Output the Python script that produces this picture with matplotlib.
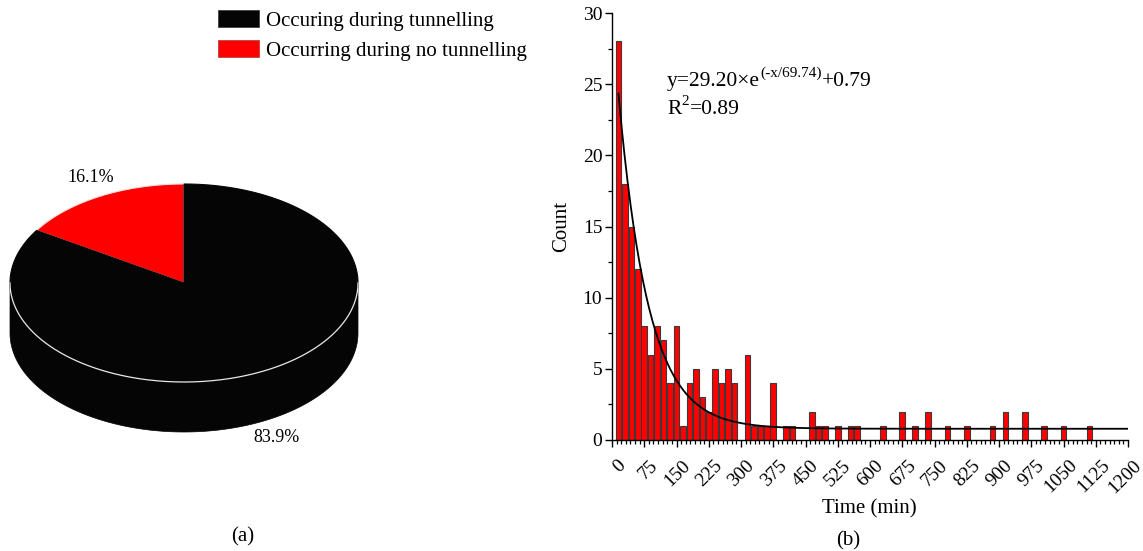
import numpy as np
import matplotlib
matplotlib.use("Agg")
import matplotlib.pyplot as plt
import matplotlib.transforms as mtransforms
from matplotlib.patches import Polygon, Patch

plt.rcParams["font.family"] = ["Liberation Serif", "DejaVu Serif"]
plt.rcParams["mathtext.fontset"] = "custom"
plt.rcParams["mathtext.rm"] = "Liberation Serif"
plt.rcParams["mathtext.it"] = "Liberation Serif:italic"

# ---- (a) share of events ----
pie_labels = ["Occurring during no tunnelling", "Occuring during tunnelling"]
pie_shares = [16.1, 83.9]
pie_colors = ["#ff0000", "#050505"]

# ---- (b) histogram of time (15-min bins, centred at 15, 30, ... min) ----
bin_width = 15
counts = [28, 18, 15, 12, 8, 6, 8, 7, 4, 8,
          1, 4, 5, 3, 2, 5, 4, 5, 4, 0,
          6, 1, 1, 1, 4, 0, 1, 1, 0, 0,
          2, 1, 1, 0, 1, 0, 1, 1, 0, 0,
          0, 1, 0, 0, 2, 0, 1, 0, 2, 0,
          0, 1, 0, 0, 1, 0, 0, 0, 1, 0,
          2, 0, 0, 2, 0, 0, 1, 0, 0, 1,
          0, 0, 0, 1]
x_ticks = [0, 75, 150, 225, 300, 375, 450, 525, 600, 675, 750, 825,
           900, 975, 1050, 1125, 1200]
y_ticks = [0, 5, 10, 15, 20, 25, 30]

# exponential fit y = A*exp(-x/t) + c
fit_A, fit_t, fit_c, fit_r2 = 29.20, 69.74, 0.79, 0.89

W, H = 1143, 551
fig = plt.figure(figsize=(W / 100, H / 100), dpi=100)

# pixel-space canvas for the 3-D pie
cv = fig.add_axes([0, 0, 1, 1])
cv.set_xlim(0, W)
cv.set_ylim(H, 0)
cv.axis("off")

cx, cy, rx, ry, depth = 184, 283, 174, 99, 50


def rim(t0, t1, n=300):
    t = np.radians(np.linspace(t0, t1, n))
    return cx + rx * np.cos(t), cy - ry * np.sin(t)


bounds = [90.0]
for s in pie_shares:
    bounds.append(bounds[-1] + 360.0 * s / sum(pie_shares))

# side walls (front half only: 180..360 deg)
for (t0, t1), col in zip(zip(bounds[:-1], bounds[1:]), pie_colors):
    for off in (0, 360):
        a0, a1 = max(t0, 180 + off), min(t1, 360 + off)
        if a1 > a0:
            xs, ys = rim(a0, a1)
            poly = np.column_stack([np.r_[xs, xs[::-1]],
                                    np.r_[ys, ys[::-1] + depth]])
            cv.add_patch(Polygon(poly, closed=True, fc=col, ec=col, lw=0.5))

# top faces
for (t0, t1), col in zip(zip(bounds[:-1], bounds[1:]), pie_colors):
    xs, ys = rim(t0, t1)
    poly = np.column_stack([np.r_[cx, xs], np.r_[cy, ys]])
    ec = "#f3dcdc" if col == "#ff0000" else col
    cv.add_patch(Polygon(poly, closed=True, fc=col, ec=ec, lw=0.8))

# light rim between top face and side wall
xs, ys = rim(180, 360)
cv.plot(xs, ys, color="#e8e8e8", lw=0.9)

cv.text(91, 177, f"{pie_shares[0]:.1f}%", fontsize=13, ha="center", va="center")
cv.text(276, 438, f"{pie_shares[1]:.1f}%", fontsize=13, ha="center", va="center")

handles = [Patch(fc=pie_colors[1], ec="#404040", lw=0.6),
           Patch(fc=pie_colors[0], ec="#c04040", lw=0.6)]
cv.legend(handles, [pie_labels[1], pie_labels[0]], loc="upper left",
          bbox_to_anchor=(218 / W, 1 - 10 / H), bbox_transform=fig.transFigure,
          frameon=False, fontsize=15, handlelength=1.97, handleheight=0.91,
          handletextpad=0.34, labelspacing=0.44, borderpad=0, borderaxespad=0)

fig.text(243 / W, 1 - 537 / H, "(a)", fontsize=15, ha="center", va="center")
fig.text(848 / W, 1 - 541 / H, "(b)", fontsize=15, ha="center", va="center")

# ---- histogram ----
ax = fig.add_axes([612 / W, 111 / H, 516 / W, 427 / H])
centers = [bin_width * (i + 1) for i in range(len(counts))]
cx_nz = [c for c, n in zip(centers, counts) if n > 0]
n_nz = [n for n in counts if n > 0]
ax.bar(cx_nz, n_nz, width=13, color="#ff0000", edgecolor="#3a3a3a",
       linewidth=0.8, zorder=2)

xf = np.linspace(bin_width, 1200, 500)
ax.plot(xf, fit_A * np.exp(-xf / fit_t) + fit_c, color="black", lw=1.3, zorder=3)

ax.set_xlim(0, 1200)
ax.set_ylim(0, 30)
ax.set_xticks(x_ticks)
ax.set_xticks(np.linspace(0, 1200, 16 * 7 + 1), minor=True)
ax.set_yticks(y_ticks)
ax.set_yticklabels([str(t) for t in y_ticks], fontsize=14)
ax.set_yticks(np.arange(0, 30.1, 2.5), minor=True)
ax.tick_params(which="major", direction="out", length=5, width=1.0, pad=2)
ax.tick_params(which="minor", direction="out", length=3, width=0.9)
ax.set_xticklabels([str(t) for t in x_ticks], rotation=45, ha="right",
                   va="top", rotation_mode="anchor", fontsize=14)
# nudge the slanted labels right/down so their ends sit beside the ticks
shift = mtransforms.ScaledTranslation(5 / 100, -7 / 100, fig.dpi_scale_trans)
for tk in ax.xaxis.get_major_ticks():
    tk.label1.set_transform(tk.label1.get_transform() + shift)
for s in ("top", "right"):
    ax.spines[s].set_visible(False)
for s in ("left", "bottom"):
    ax.spines[s].set_linewidth(1.0)

ax.set_xlabel("Time (min)", fontsize=15)
ax.xaxis.label.set_va("center")
ax.xaxis.set_label_coords((869 - 612) / 516, (440 - 509) / 427)
ax.set_ylabel("Count", fontsize=15)
ax.yaxis.label.set_va("center")
ax.yaxis.set_label_coords((562 - 612) / 516, 0.5)

# fit equation: base text, raised exponent, constant term
ex, ey = (667 - 612) / 516, (440 - 86) / 427
t1 = ax.text(ex, ey, "y=29.20\u00d7e", transform=ax.transAxes,
             fontsize=15.5, va="baseline", ha="left")
t2 = ax.annotate("(-x/69.74)", xy=(1, ey), xycoords=(t1, ax.transAxes),
                 xytext=(0.3, 6.5), textcoords="offset points",
                 fontsize=11, va="baseline", ha="left")
ax.annotate("+0.79", xy=(1, ey), xycoords=(t2, ax.transAxes),
            xytext=(0.3, 0), textcoords="offset points",
            fontsize=15.5, va="baseline", ha="left")

r1 = ax.text(ex, (440 - 114) / 427, "R", transform=ax.transAxes,
             fontsize=15.5, va="baseline", ha="left")
r2 = ax.annotate("2", xy=(1, (440 - 114) / 427), xycoords=(r1, ax.transAxes),
                 xytext=(0.3, 6.5), textcoords="offset points",
                 fontsize=11, va="baseline", ha="left")
ax.annotate(f"={fit_r2:.2f}", xy=(1, (440 - 114) / 427),
            xycoords=(r2, ax.transAxes), xytext=(0.3, 0),
            textcoords="offset points", fontsize=15.5, va="baseline", ha="left")

fig.savefig("out.png", dpi=100)
